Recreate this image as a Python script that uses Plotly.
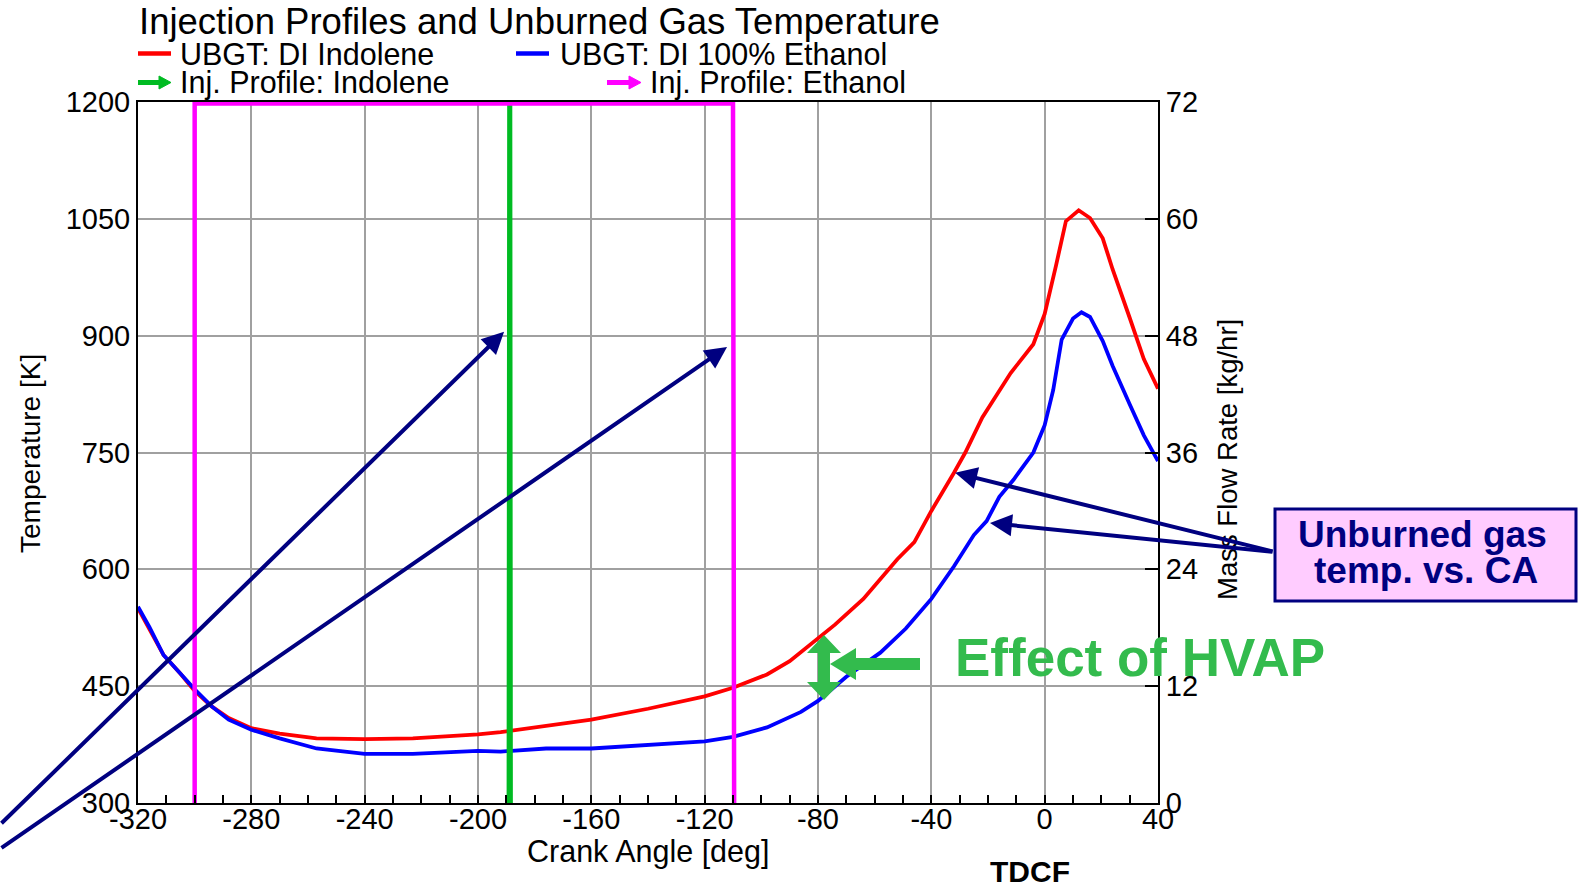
import plotly.graph_objects as go

W, H = 1579, 887
L, R, T, B = 138, 421, 102, 84
PW = W - L - R
PH = H - T - B


def px(x):
    return (x - L) / PW


def py(y):
    return (H - B - y) / PH


FONT = "Liberation Sans, Arial, sans-serif"
NAVY = "#000080"
GREEN_TXT = "#33bb4d"

# ---------------- data ----------------
x_ticks = [-320, -280, -240, -200, -160, -120, -80, -40, 0, 40]
temp_ticks = [300, 450, 600, 750, 900, 1050, 1200]
flow_ticks = [0, 12, 24, 36, 48, 60, 72]

ca_indolene = [-320, -316, -311, -305, -300, -294, -288, -280, -270, -257, -240, -223,
               -200, -192, -176, -160, -140, -120, -110, -98, -90, -80, -74, -64, -57,
               -52, -46, -40, -32, -28, -22, -16, -12, -4, -2, 0, 4, 7.5, 12, 16, 20.5,
               24, 30, 35, 40]
temp_indolene = [550, 523, 490, 466, 444, 424, 409, 396, 389, 383, 382, 383,
                 388, 391, 399, 407, 421, 437, 448, 465, 482, 511, 529, 562, 591,
                 613, 635, 675, 724, 750, 795, 830, 852, 889, 907, 928, 990, 1047, 1061,
                 1051, 1025, 985, 923, 870, 832]

ca_ethanol = [-320, -316, -311, -300, -294, -288, -280, -270, -257, -240, -223, -200,
              -192, -176, -160, -134, -120, -110, -98, -86, -80, -70, -58, -49, -40,
              -32, -25, -20.5, -16, -11, -4, 0, 3, 6, 10, 13, 16, 20.5, 24, 30, 35, 40]
temp_ethanol = [552, 526, 490, 446, 424, 407, 394, 383, 370, 363, 363, 367,
                366, 370, 370, 376, 379, 385, 397, 417, 431, 462, 493, 524, 562,
                604, 644, 662, 693, 715, 750, 785, 830, 895, 922, 930, 924, 893, 861,
                812, 772, 739]

inj_ca_indolene = [-189.2, -189.0, -188.6, -188.4]
inj_flow_indolene = [0, 71.5, 71.5, 0]

inj_ca_ethanol = [-300.0, -300.0, -110.0, -109.6]
inj_flow_ethanol = [0, 71.85, 71.85, 0]

# ---------------- traces ----------------
fig = go.Figure()
fig.add_trace(go.Scatter(x=ca_indolene, y=temp_indolene, mode="lines",
                         line=dict(color="#ff0000", width=3.8), name="UBGT: DI Indolene",
                         showlegend=False))
fig.add_trace(go.Scatter(x=ca_ethanol, y=temp_ethanol, mode="lines",
                         line=dict(color="#0000ff", width=3.8), name="UBGT: DI 100% Ethanol",
                         showlegend=False))
fig.add_trace(go.Scatter(x=inj_ca_indolene, y=inj_flow_indolene, mode="lines",
                         line=dict(color="#00bb22", width=4), yaxis="y2",
                         name="Inj. Profile: Indolene", showlegend=False))
fig.add_trace(go.Scatter(x=inj_ca_ethanol, y=inj_flow_ethanol, mode="lines",
                         line=dict(color="#ff00ff", width=4.5), yaxis="y2",
                         name="Inj. Profile: Ethanol", showlegend=False))

tickfont = dict(family=FONT, size=29, color="black")

fig.update_layout(
    width=W, height=H,
    margin=dict(l=L, r=R, t=T, b=B, pad=0),
    paper_bgcolor="white", plot_bgcolor="white",
    showlegend=False,
    xaxis=dict(range=[-320, 40], tickvals=x_ticks, ticktext=[str(v) for v in x_ticks],
               showgrid=True, gridcolor="#a0a0a0", gridwidth=2,
               showline=True, linecolor="black", linewidth=2, mirror=True,
               ticks="inside", ticklen=8, tickwidth=1.5, tickcolor="black",
               minor=dict(tickvals=list(range(-310, 40, 10)), ticks="inside", ticklen=8,
                          tickwidth=1.5, tickcolor="black", showgrid=False),
               ticklabelstandoff=-11,
               zeroline=False, tickfont=tickfont),
    yaxis=dict(range=[300, 1200], tickvals=temp_ticks, ticktext=[str(v) for v in temp_ticks],
               showgrid=True, gridcolor="#a0a0a0", gridwidth=2,
               showline=True, linecolor="black", linewidth=2, mirror=True,
               ticks="", zeroline=False, tickfont=tickfont),
    yaxis2=dict(range=[0, 72], tickvals=flow_ticks, ticktext=[str(v) for v in flow_ticks],
                overlaying="y", side="right", showgrid=False,
                showline=True, linecolor="black", linewidth=2,
                ticks="inside", ticklen=13, tickwidth=1.5, tickcolor="black",
                zeroline=False, tickfont=tickfont),
)

ann = []
shapes = []

# title
ann.append(dict(text="Injection Profiles and Unburned Gas Temperature", x=px(137), y=py(22),
                xref="paper", yref="paper", xanchor="left", yanchor="middle", showarrow=False,
                font=dict(family=FONT, size=36.5, color="black")))

# legend
leg_font = dict(family=FONT, size=30.5, color="black")
legend_items = [
    ("line", "#ff0000", 138, 171, 53.5, 178, "UBGT: DI Indolene"),
    ("line", "#0000ff", 516, 549, 53.5, 558, "UBGT: DI 100% Ethanol"),
    ("arrow", "#00bb22", 138, 171, 82.5, 178, "Inj. Profile: Indolene"),
    ("arrow", "#ff00ff", 607, 641, 82.5, 648, "Inj. Profile: Ethanol"),
]
for kind, col, x0, x1, yy, xt, label in legend_items:
    if kind == "line":
        shapes.append(dict(type="line", xref="paper", yref="paper", x0=px(x0), x1=px(x1),
                           y0=py(yy), y1=py(yy), line=dict(color=col, width=4.5)))
    else:
        shapes.append(dict(type="line", xref="paper", yref="paper", x0=px(x0), x1=px(x1 - 9),
                           y0=py(yy), y1=py(yy), line=dict(color=col, width=5)))
        path = "M{},{} L{},{} L{},{} Z".format(px(x1 - 12), py(yy - 6.5), px(x1), py(yy),
                                               px(x1 - 12), py(yy + 6.5))
        shapes.append(dict(type="path", xref="paper", yref="paper", path=path,
                           fillcolor=col, line=dict(color=col, width=1)))
    ann.append(dict(text=label, x=px(xt), y=py(yy), xref="paper", yref="paper",
                    xanchor="left", yanchor="middle", showarrow=False, font=leg_font))

# axis titles
ann.append(dict(text="Temperature [K]", x=px(30), y=py(454), xref="paper", yref="paper",
                xanchor="center", yanchor="middle", textangle=-90, showarrow=False,
                font=dict(family=FONT, size=28, color="black")))
ann.append(dict(text="Mass Flow Rate [kg/hr]", x=px(1227), y=py(460), xref="paper", yref="paper",
                xanchor="center", yanchor="middle", textangle=-90, showarrow=False,
                font=dict(family=FONT, size=27.5, color="black")))
ann.append(dict(text="Crank Angle [deg]", x=px(648), y=py(851), xref="paper", yref="paper",
                xanchor="center", yanchor="middle", showarrow=False,
                font=dict(family=FONT, size=30.5, color="black")))
ann.append(dict(text="<b>TDCF</b>", x=px(1030), y=py(890), xref="paper", yref="paper",
                xanchor="center", yanchor="bottom", showarrow=False,
                font=dict(family=FONT, size=30, color="black")))

# navy arrows (tips in data coords, tails in pixel offsets)
navy_arrows = [(-190.8, 905, -505, 493), (-112.1, 885.5, -728, 502),
               (-31.6, 724, 319, 79), (-19.3, 659.5, 284, 29)]
for xa, ya, axp, ayp in navy_arrows:
    ann.append(dict(text="", x=xa, y=ya, xref="x", yref="y", ax=axp, ay=ayp,
                    showarrow=True, arrowhead=2, arrowsize=1.1, arrowwidth=4,
                    arrowcolor=NAVY, standoff=0))

# callout box
shapes.append(dict(type="rect", xref="paper", yref="paper", x0=px(1275), x1=px(1576),
                   y0=py(509), y1=py(601), fillcolor="#ffccff",
                   line=dict(color=NAVY, width=3), layer="above"))
ann.append(dict(text="<b>Unburned gas</b>", x=px(1422), y=py(534), xref="paper", yref="paper",
                xanchor="center", yanchor="middle", showarrow=False,
                font=dict(family=FONT, size=37, color=NAVY)))
ann.append(dict(text="<b>temp. vs. CA</b>", x=px(1426), y=py(570), xref="paper", yref="paper",
                xanchor="center", yanchor="middle", showarrow=False,
                font=dict(family=FONT, size=37, color=NAVY)))

# Effect of HVAP
ann.append(dict(text="<b>Effect of HVAP</b>", x=px(953), y=py(657), xref="paper", yref="paper",
                xanchor="left", yanchor="middle", showarrow=False,
                font=dict(family=FONT, size=53, color=GREEN_TXT)))


def poly(points):
    s = "M" + " L".join("{},{}".format(px(a), py(b)) for a, b in points) + " Z"
    return s


# vertical double arrow
vx, vt, vb = 824, 635, 700
hw, sw, hl = 17, 6, 18
shapes.append(dict(type="path", xref="paper", yref="paper", layer="above",
                   path=poly([(vx, vt), (vx + hw, vt + hl), (vx + sw, vt + hl), (vx + sw, vb - hl),
                              (vx + hw, vb - hl), (vx, vb), (vx - hw, vb - hl), (vx - sw, vb - hl),
                              (vx - sw, vt + hl), (vx - hw, vt + hl)]),
                   fillcolor=GREEN_TXT, line=dict(width=0)))
# horizontal left arrow
hy, hx0, hx1 = 664, 830, 920
shapes.append(dict(type="path", xref="paper", yref="paper", layer="above",
                   path=poly([(hx0, hy), (hx0 + 26, hy - 16), (hx0 + 26, hy - 6), (hx1, hy - 6),
                              (hx1, hy + 6), (hx0 + 26, hy + 6), (hx0 + 26, hy + 16)]),
                   fillcolor=GREEN_TXT, line=dict(width=0)))

fig.update_layout(annotations=ann, shapes=shapes)
fig.write_html("out.html")
